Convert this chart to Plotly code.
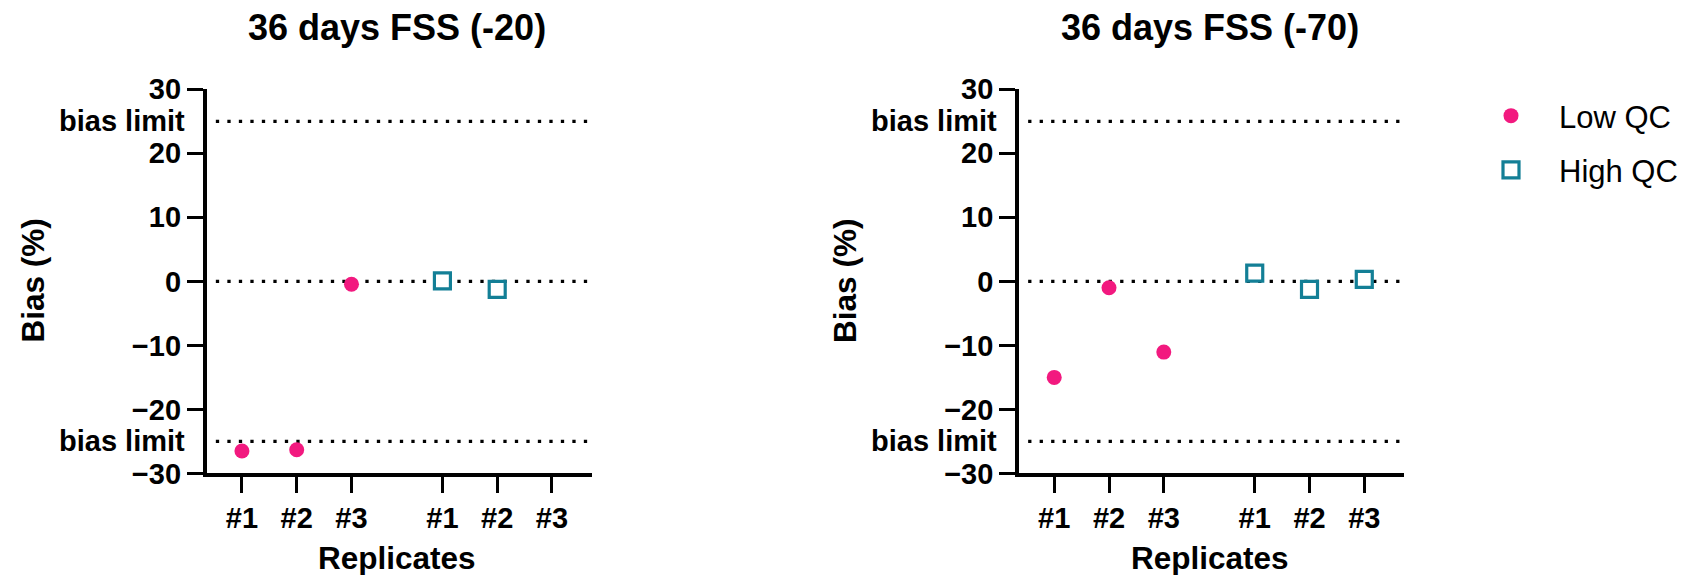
import plotly.graph_objects as go

# ---------------- data ----------------
replicates = ["#1", "#2", "#3"]
series_names = ["Low QC", "High QC"]
panel_titles = ["36 days FSS (-20)", "36 days FSS (-70)"]
low_qc_m20 = [-26.5, -26.3, -0.45]
high_qc_m20 = [0.08, -1.25, None]
low_qc_m70 = [-15.0, -1.0, -11.05]
high_qc_m70 = [1.28, -1.25, 0.3]
bias_limit = 25
reference_line = 0
y_tick_vals = [-30, -20, -10, 0, 10, 20, 30]
y_range = [-30, 30]
x_axis_title = "Replicates"
y_axis_title = "Bias (%)"
bias_label = "bias limit"

# ---------------- style ----------------
W, H = 1683, 575
PINK = "#F2197F"
TEAL = "#137F96"
FONT = "Liberation Sans"
GROUP_GAP = 1.66
low_pos = [i for i in range(len(replicates))]
high_pos = [i + GROUP_GAP + len(replicates) - 1 for i in range(len(replicates))]
x_range = [-0.645, 6.385]

def px_x(p):
    return p / W

def px_y(p):
    return 1 - p / H

ydom = [px_y(473.4), px_y(89.3)]
xdoms = [[px_x(206.6), px_x(591.7)], [px_x(1018.9), px_x(1404.0)]]
axis_px = [206.6, 1018.9]
tick_centers = [397.0, 1210.0]

fig = go.Figure()

panels = [(low_qc_m20, high_qc_m20), (low_qc_m70, high_qc_m70)]
for i, (low, high) in enumerate(panels):
    xa = "x" if i == 0 else "x2"
    ya = "y" if i == 0 else "y2"
    fig.add_trace(go.Scatter(
        x=low_pos, y=low, mode="markers", name=series_names[0],
        legendgroup="low", showlegend=(i == 0), xaxis=xa, yaxis=ya,
        marker=dict(symbol="circle", size=15, color=PINK, line=dict(width=0)),
    ))
    fig.add_trace(go.Scatter(
        x=high_pos, y=high, mode="markers", name=series_names[1],
        legendgroup="high", showlegend=(i == 0), xaxis=xa, yaxis=ya,
        marker=dict(symbol="square", size=16, color="white",
                    line=dict(width=3.2, color=TEAL)),
    ))

tickfont = dict(family=FONT, size=29, color="black", weight="bold")
axis_common = dict(
    showline=True, linecolor="black", linewidth=3.5,
    ticks="outside", ticklen=16, tickwidth=3.2, tickcolor="black",
    showgrid=False, zeroline=False, tickfont=tickfont, fixedrange=True,
    automargin=False,
)

layout = dict(
    width=W, height=H,
    margin=dict(l=0, r=0, t=0, b=0, pad=0, autoexpand=False),
    paper_bgcolor="white", plot_bgcolor="white",
    showlegend=True,
    legend=dict(
        x=px_x(1463), y=px_y(89), xanchor="left", yanchor="top",
        font=dict(family=FONT, size=31, color="black"),
        tracegroupgap=11, bgcolor="rgba(0,0,0,0)", itemwidth=86,
    ),
)
for i in range(2):
    sx = "" if i == 0 else "2"
    layout["xaxis" + sx] = dict(
        domain=xdoms[i], range=x_range, anchor="y" + sx,
        tickvals=low_pos + high_pos, ticktext=replicates + replicates,
        **axis_common,
    )
    layout["yaxis" + sx] = dict(
        domain=ydom, range=y_range, anchor="x" + sx,
        tickvals=y_tick_vals, **axis_common,
    )
fig.update_layout(**layout)

annotations = []
shapes = []
for i in range(2):
    sx = "" if i == 0 else "2"
    # dotted lines
    for yv in (bias_limit, reference_line, -bias_limit):
        shapes.append(dict(
            type="line", xref="x" + sx + " domain", yref="y" + sx,
            x0=0.024, x1=0.995, y0=yv, y1=yv, layer="below",
            line=dict(color="black", width=3.3, dash="3.3px,8.2px"),
        ))
    # bias limit labels
    for yv in (bias_limit, -bias_limit):
        annotations.append(dict(
            text=bias_label, xref="paper", yref="y" + sx,
            x=px_x(axis_px[i] - 20), y=yv, xanchor="right", yanchor="middle",
            showarrow=False, font=dict(family=FONT, size=29, color="black", weight="bold"),
        ))
    # panel title
    annotations.append(dict(
        text=panel_titles[i], xref="paper", yref="paper",
        x=px_x(tick_centers[i]), y=px_y(27), xanchor="center", yanchor="middle",
        showarrow=False, font=dict(family=FONT, size=36, color="black", weight="bold"),
    ))
    # x title
    annotations.append(dict(
        text=x_axis_title, xref="paper", yref="paper",
        x=px_x(tick_centers[i]), y=px_y(558), xanchor="center", yanchor="middle",
        showarrow=False, font=dict(family=FONT, size=31.5, color="black", weight="bold"),
    ))
    # y title
    annotations.append(dict(
        text=y_axis_title, xref="paper", yref="paper", textangle=-90,
        x=px_x(axis_px[i] - 174), y=px_y(281), xanchor="center", yanchor="middle",
        showarrow=False, font=dict(family=FONT, size=31.5, color="black", weight="bold"),
    ))

fig.update_layout(annotations=annotations, shapes=shapes)
fig.write_html("out.html")
